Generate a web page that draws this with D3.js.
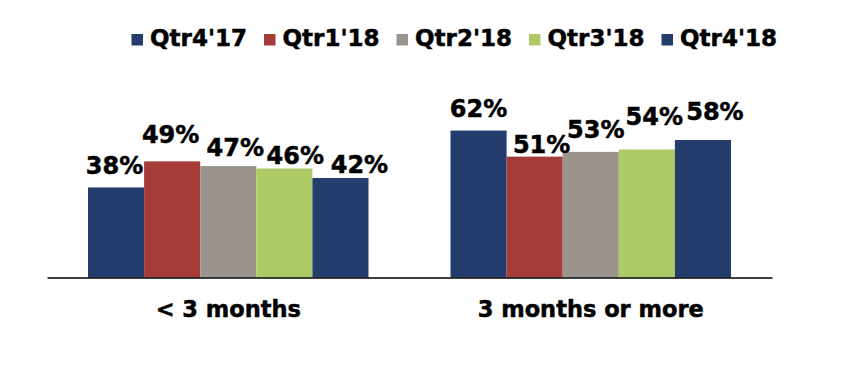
<!DOCTYPE html>
<html>
<head>
<meta charset="utf-8">
<script src="https://cdn.jsdelivr.net/npm/d3@7"></script>
<style>
  body { margin: 0; background: #fff; }
  svg { display: block; font-family: "DejaVu Sans", Verdana, sans-serif; font-weight: bold; }
  text { stroke: #000; stroke-width: 0.5px; }
</style>
</head>
<body>
<svg id="chart" width="851" height="371"></svg>
<script>
// categories and series
const categories = ["< 3 months", "3 months or more"];
const series = ["Qtr4'17", "Qtr1'18", "Qtr2'18", "Qtr3'18", "Qtr4'18"];
const colors = ["#243d6c", "#a63c38", "#9a948d", "#adca66", "#243d6c"];
// values per series, one per category
const qtr4_17 = [0.38, 0.62];
const qtr1_18 = [0.49, 0.51];
const qtr2_18 = [0.47, 0.53];
const qtr3_18 = [0.46, 0.54];
const qtr4_18 = [0.42, 0.58];
const values = [qtr4_17, qtr1_18, qtr2_18, qtr3_18, qtr4_18];

// label nudges (dx, extra lift) like the excel chart where labels got dragged around
const labelNudge = [
  [[-1.5, 3], [0, 4]],
  [[-1.5, 8], [7, -6]],
  [[7, 0], [5, 4]],
  [[11, -6], [7.5, 15]],
  [[19, -5], [12, 10]]
];

const svg = d3.select("#chart");
const base = 277.5;

const x0 = d3.scaleBand().domain(categories).range([47, 772]);
const x1 = d3.scaleBand().domain(series).range([41, x0.bandwidth() - 41]);
const y = d3.scaleLinear().domain([0, 1]).range([base, base - 237]);

const fmt = d3.format(".0%");

// bars
const groups = svg.selectAll("g.grp")
    .data(categories)
    .enter()
    .append("g")
    .attr("class", "grp")
    .attr("transform", d => `translate(${x0(d)},0)`);

groups.each(function (cat, ci) {
    const g = d3.select(this);
    const rows = series.map((s, si) => ({ s: s, si: si, v: values[si][ci] }));
    g.selectAll("rect")
        .data(rows)
        .enter()
        .append("rect")
        .attr("x", d => x1(d.s))
        .attr("y", d => y(d.v))
        .attr("width", x1.bandwidth())
        .attr("height", d => base - y(d.v))
        .attr("fill", d => colors[d.si]);
    g.selectAll("text.val")
        .data(rows)
        .enter()
        .append("text")
        .attr("class", "val")
        .attr("x", d => x1(d.s) + x1.bandwidth() / 2 + labelNudge[d.si][ci][0])
        .attr("y", d => y(d.v) - 10 - labelNudge[d.si][ci][1])
        .attr("text-anchor", "middle")
        .style("font-size", "24px")
        .attr("fill", "#000")
        .text(d => fmt(d.v));
});

// x axis
const xAxis = svg.append("g")
    .attr("transform", `translate(0,${base})`)
    .call(d3.axisBottom(x0).tickSize(0).tickPadding(24));
xAxis.select(".domain").attr("stroke", "#000").attr("stroke-width", 1.5);
xAxis.selectAll("text")
    .style("font-size", "22.5px")
    .style("font-family", "DejaVu Sans, Verdana, sans-serif")
    .style("font-weight", "bold")
    .attr("fill", "#000");

// legend
const legend = svg.append("g").attr("transform", "translate(131.5,0)");
const item = legend.selectAll("g")
    .data(series)
    .enter()
    .append("g")
    .attr("transform", (d, i) => `translate(${i * 132.5},0)`);
item.append("rect")
    .attr("x", 0)
    .attr("y", 34)
    .attr("width", 11.5)
    .attr("height", 11.5)
    .attr("fill", (d, i) => colors[i]);
item.append("text")
    .attr("x", 18.5)
    .attr("y", 46)
    .style("font-size", "23px")
    .attr("fill", "#000")
    .text(d => d);
</script>
</body>
</html>
